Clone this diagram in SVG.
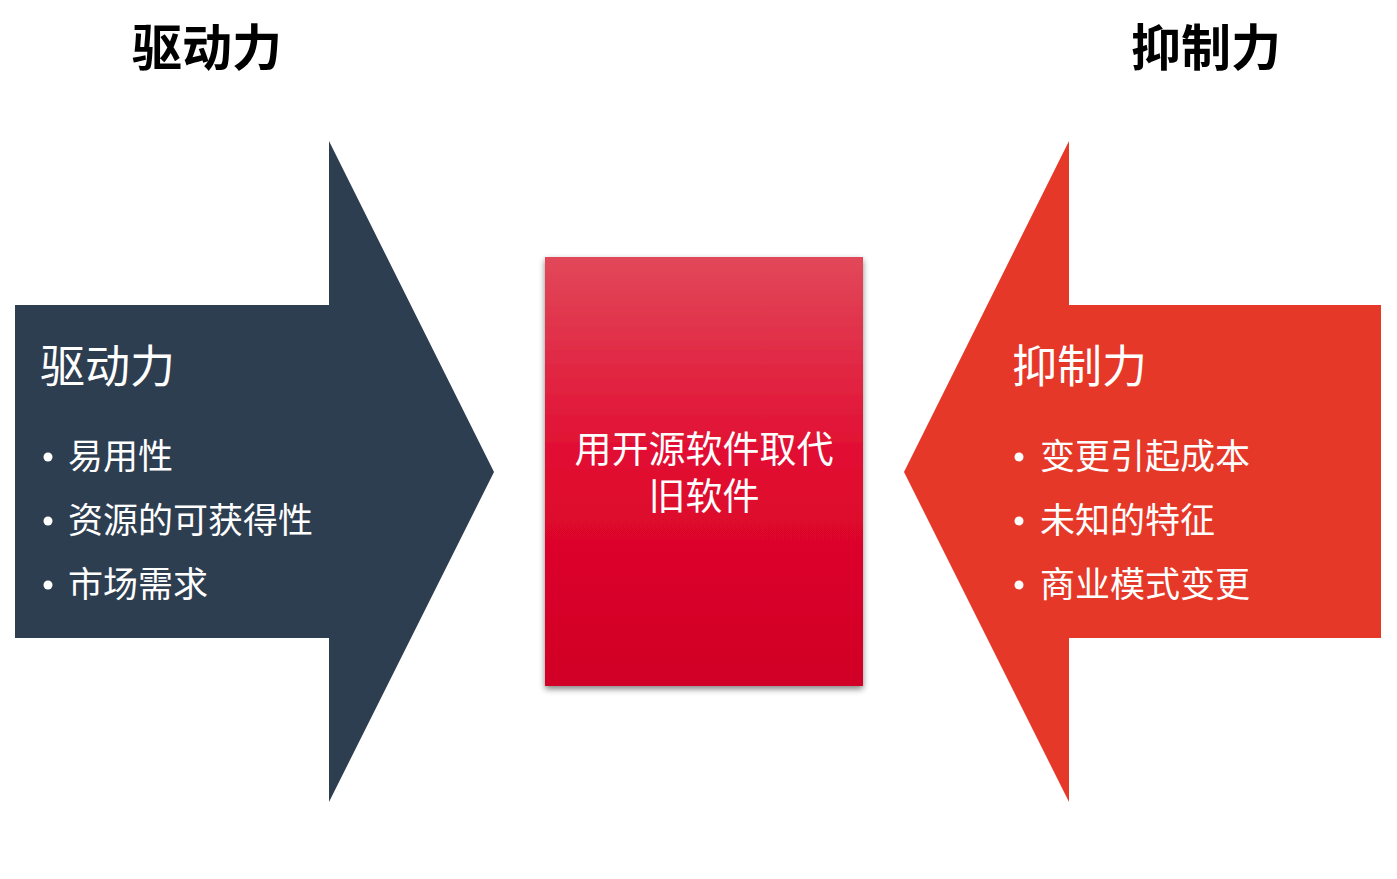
<svg xmlns="http://www.w3.org/2000/svg" width="1397" height="879" viewBox="0 0 1397 879">
<style>
.t{font-family:"Noto Sans CJK SC","Noto Sans",sans-serif;fill:#fff}
.h{font-family:"Noto Sans CJK SC","Noto Sans",sans-serif;font-weight:bold;font-size:50px;fill:#000}
.b{font-size:35px}
.hd{font-size:45px}
.c{font-size:37px;text-anchor:middle}
.d{fill:#fff}
</style>
<defs>
<linearGradient id="g" x1="0" y1="0" x2="0" y2="1">
<stop offset="0" stop-color="#E14859"/>
<stop offset="0.5" stop-color="#E1092F"/>
<stop offset="1" stop-color="#D10025"/>
</linearGradient>
<filter id="sh" x="-10%" y="-10%" width="120%" height="120%">
<feGaussianBlur in="SourceAlpha" stdDeviation="3"/>
<feOffset dx="0" dy="3"/>
<feComponentTransfer><feFuncA type="linear" slope="0.5"/></feComponentTransfer>
<feMerge><feMergeNode/><feMergeNode in="SourceGraphic"/></feMerge>
</filter>
</defs>
<rect width="1397" height="879" fill="#fff"/>
<text class="h" x="207" y="66" text-anchor="middle">驱动力</text>
<text class="h" x="1206" y="66" text-anchor="middle">抑制力</text>
<g id="drive">
<polygon points="15,305 329,305 329,141 494,472 329,802 329,638 15,638" fill="#2E3E51"/>
<text class="t hd" x="40" y="383">驱动力</text>
<circle class="d" cx="48" cy="457" r="4.5"/>
<text class="t b" x="68" y="469">易用性</text>
<circle class="d" cx="48" cy="521" r="4.5"/>
<text class="t b" x="68" y="533">资源的可获得性</text>
<circle class="d" cx="48" cy="585" r="4.5"/>
<text class="t b" x="68" y="597">市场需求</text>
</g>
<g id="restrain">
<polygon points="1381,305 1069,305 1069,141 904,472 1069,802 1069,638 1381,638" fill="#E63828"/>
<text class="t hd" x="1012" y="383">抑制力</text>
<circle class="d" cx="1019" cy="457" r="4.5"/>
<text class="t b" x="1040" y="469">变更引起成本</text>
<circle class="d" cx="1019" cy="521" r="4.5"/>
<text class="t b" x="1040" y="533">未知的特征</text>
<circle class="d" cx="1019" cy="585" r="4.5"/>
<text class="t b" x="1040" y="597">商业模式变更</text>
</g>
<g id="center">
<rect x="545" y="257" width="318" height="429" fill="url(#g)" filter="url(#sh)"/>
<text class="t c" x="704" y="463">用开源软件取代</text>
<text class="t c" x="704" y="510">旧软件</text>
</g>
<g id="connectors"/>
</svg>
